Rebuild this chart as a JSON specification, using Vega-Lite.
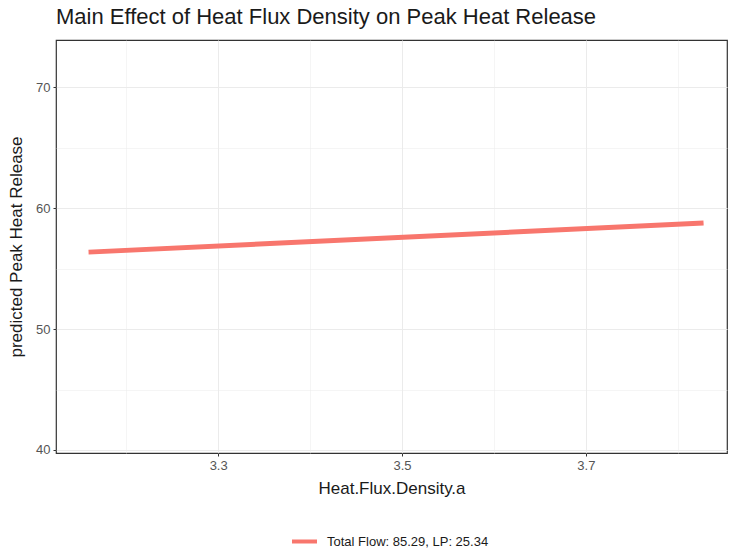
{
  "$schema": "https://vega.github.io/schema/vega-lite/v6.json",
  "autosize": {"type": "none"},
  "width": 671,
  "height": 413,
  "padding": {"left": 56, "top": 40, "right": 4, "bottom": 100},
  "background": "white",
  "title": {
    "text": "Main Effect of Heat Flux Density on Peak Heat Release",
    "anchor": "start",
    "frame": "group",
    "offset": 11,
    "font": "Liberation Sans",
    "fontSize": 22,
    "fontWeight": "normal",
    "color": "#1a1a1a"
  },
  "config": {
    "font": "Liberation Sans",
    "view": {"stroke": "#333333", "strokeWidth": 1.2},
    "axis": {
      "gridColor": "#ebebeb",
      "domain": false,
      "tickColor": "#333333",
      "tickSize": 3,
      "labelColor": "#555555",
      "labelFontSize": 13,
      "labelFont": "Liberation Sans",
      "titleFont": "Liberation Sans",
      "titleFontSize": 17,
      "titleFontWeight": "normal",
      "titleColor": "#1a1a1a"
    }
  },
  "data": {
    "values": [
      {"heat_flux_density": 3.159, "predicted": 56.36, "series": "Total Flow: 85.29, LP: 25.34"},
      {"heat_flux_density": 3.828, "predicted": 58.76, "series": "Total Flow: 85.29, LP: 25.34"}
    ]
  },
  "mark": {"type": "line", "strokeWidth": 5, "strokeCap": "butt"},
  "encoding": {
    "x": {
      "field": "heat_flux_density",
      "type": "quantitative",
      "scale": {"domain": [3.1236, 3.8535], "nice": false, "zero": false},
      "axis": {
        "values": [3.2, 3.3, 3.4, 3.5, 3.6, 3.7, 3.8],
        "labelExpr": "round(datum.value * 10) % 2 == 1 ? format(datum.value, '.1f') : ''",
        "grid": true,
        "gridWidth": {"condition": {"test": "round(datum.value * 10) % 2 == 1", "value": 1}, "value": 0.5},
        "tickOpacity": {"condition": {"test": "round(datum.value * 10) % 2 == 1", "value": 1}, "value": 0},
        "labelPadding": 3,
        "title": "Heat.Flux.Density.a",
        "titlePadding": 8
      }
    },
    "y": {
      "field": "predicted",
      "type": "quantitative",
      "scale": {"domain": [39.75, 73.9], "nice": false, "zero": false},
      "axis": {
        "values": [40, 45, 50, 55, 60, 65, 70],
        "labelExpr": "datum.value % 10 == 0 ? format(datum.value, 'd') : ''",
        "grid": true,
        "gridWidth": {"condition": {"test": "datum.value % 10 == 0", "value": 1}, "value": 0.5},
        "tickOpacity": {"condition": {"test": "datum.value % 10 == 0", "value": 1}, "value": 0},
        "labelPadding": 3,
        "title": "predicted Peak Heat Release",
        "titlePadding": 10
      }
    },
    "color": {
      "field": "series",
      "type": "nominal",
      "scale": {"range": ["#F8766D"]},
      "legend": {
        "title": null,
        "orient": "none",
        "legendX": 234,
        "legendY": 487,
        "direction": "horizontal",
        "symbolType": "stroke",
        "symbolStrokeWidth": 4,
        "symbolSize": 625,
        "labelFontSize": 13,
        "labelOffset": 8,
        "labelLimit": 0,
        "labelColor": "#1a1a1a",
        "labelFont": "Liberation Sans"
      }
    }
  }
}
